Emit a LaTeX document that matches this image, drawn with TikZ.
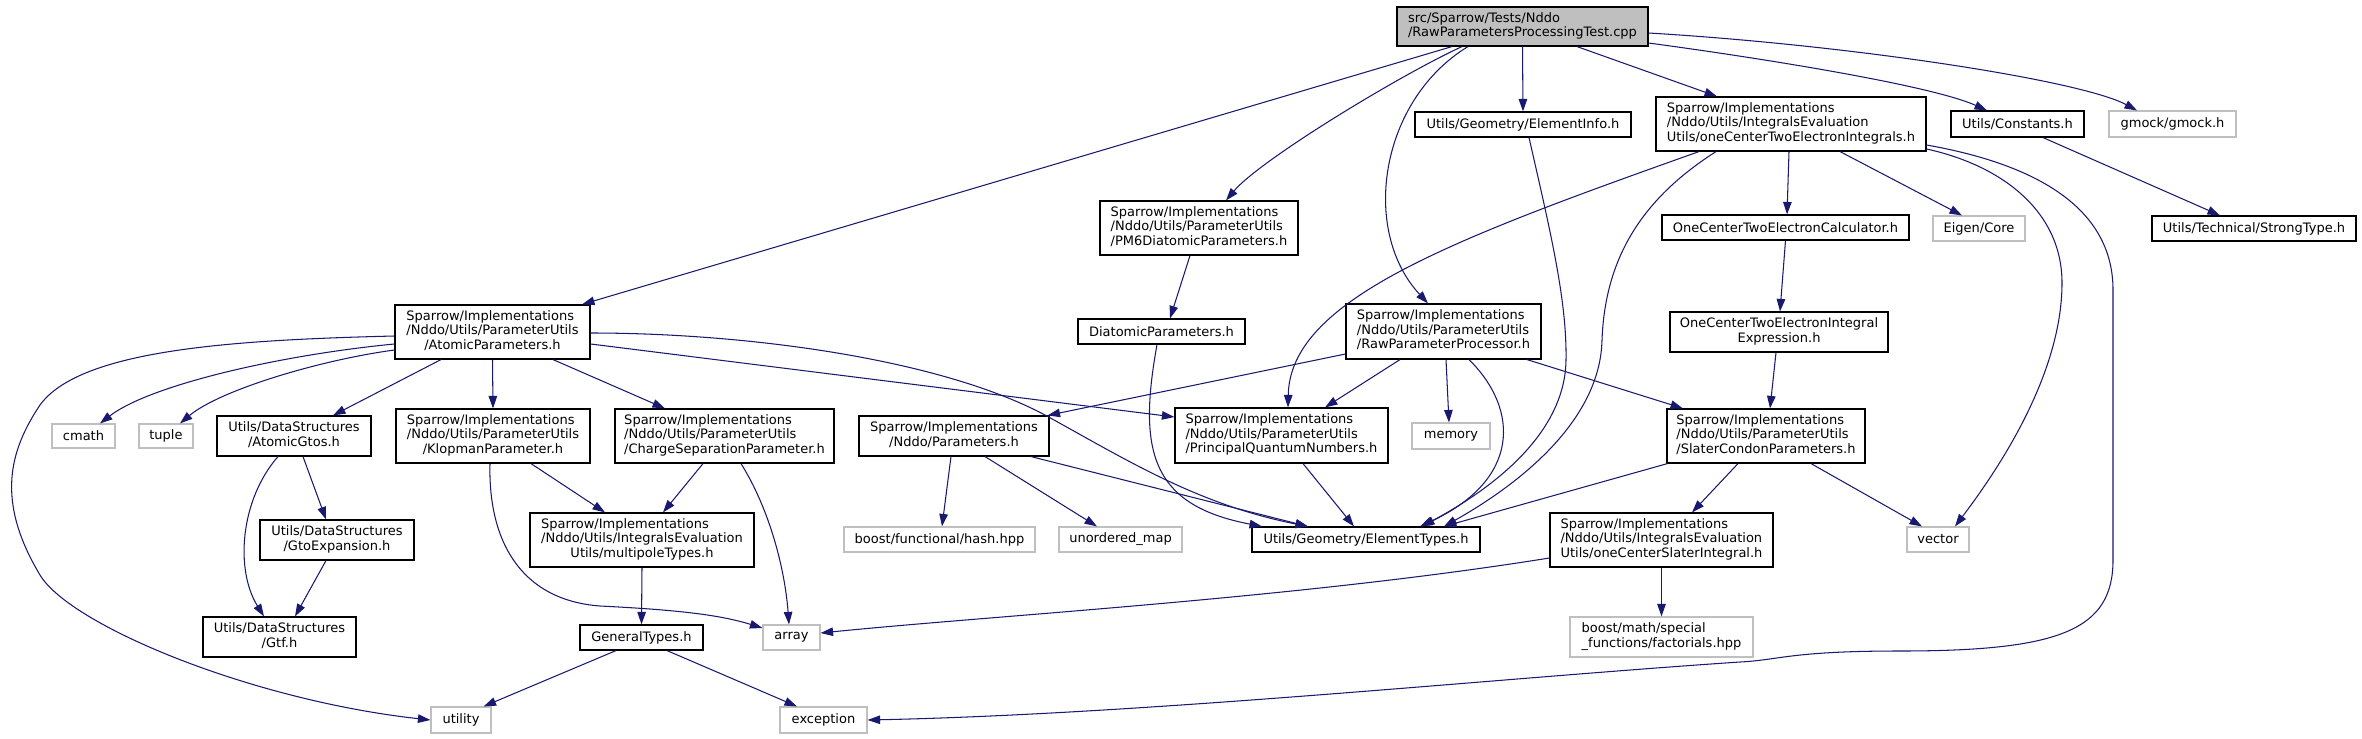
\documentclass[tikz,border=0pt]{standalone}
\usepackage{fontspec}
\setmainfont{DejaVu Sans}
\usetikzlibrary{arrows.meta}
\definecolor{edgecol}{HTML}{191970}
\definecolor{grey75}{HTML}{BFBFBF}
\newcommand\ml[2]{\begin{tabular}{@{}l@{}}#1\\\multicolumn{1}{@{}c@{}}{#2}\end{tabular}}
\newcommand\Nd[7]{\node[#6,minimum width={(#4-#2)*1pt},minimum height={(#5-#3)*1pt}] (#1) at ({(#2+#4)/2},{(#3+#5)/2}) {#7};}
\begin{document}
\begin{tikzpicture}[x=1pt,y=-1pt,
  box/.style={draw=black,line width=1.15pt,inner sep=0pt,font=\fontsize{13pt}{14.5pt}\selectfont},
  ext/.style={box,draw=grey75},
  edge/.style={draw=edgecol,line width=1.05pt,-{Triangle[length=12.5pt,width=8.5pt]}}]
\useasboundingbox[fill=white] (0,0) rectangle (2362,739);
% nodes
\Nd{root}{1397}{7}{1648}{46}{box,fill=grey75}{\ml{src/Sparrow/Tests/Nddo}{/RawParametersProcessingTest.cpp}}
\Nd{elinfo}{1415}{112}{1631}{137}{box}{Utils/Geometry/ElementInfo.h}
\Nd{octei}{1656}{97}{1926}{151}{box}{\ml{Sparrow/Implementations\\/Nddo/Utils/IntegralsEvaluation}{Utils/oneCenterTwoElectronIntegrals.h}}
\Nd{constants}{1951}{111}{2084}{137}{box}{Utils/Constants.h}
\Nd{gmock}{2109}{111}{2236}{137}{ext}{gmock/gmock.h}
\Nd{pm6}{1100}{201}{1298}{255}{box}{\ml{Sparrow/Implementations\\/Nddo/Utils/ParameterUtils}{/PM6DiatomicParameters.h}}
\Nd{calc}{1662}{215}{1909}{240}{box}{OneCenterTwoElectronCalculator.h}
\Nd{eigen}{1933}{216}{2025}{241}{ext}{Eigen/Core}
\Nd{strong}{2152}{216}{2356}{241}{box}{Utils/Technical/StrongType.h}
\Nd{atomic}{395}{305}{590}{359}{box}{\ml{Sparrow/Implementations\\/Nddo/Utils/ParameterUtils}{/AtomicParameters.h}}
\Nd{diatomic}{1078}{319}{1245}{344}{box}{DiatomicParameters.h}
\Nd{rpp}{1346}{304}{1541}{359}{box}{\ml{Sparrow/Implementations\\/Nddo/Utils/ParameterUtils}{/RawParameterProcessor.h}}
\Nd{octeiexpr}{1670}{312}{1888}{352}{box}{\ml{OneCenterTwoElectronIntegral}{Expression.h}}
\Nd{cmath}{52}{424}{115}{448}{ext}{cmath}
\Nd{tuple}{139}{424}{193}{448}{ext}{tuple}
\Nd{gtos}{217}{416}{371}{456}{box}{\ml{Utils/DataStructures}{/AtomicGtos.h}}
\Nd{klopman}{396}{409}{590}{463}{box}{\ml{Sparrow/Implementations\\/Nddo/Utils/ParameterUtils}{/KlopmanParameter.h}}
\Nd{chargesep}{615}{409}{834}{463}{box}{\ml{Sparrow/Implementations\\/Nddo/Utils/ParameterUtils}{/ChargeSeparationParameter.h}}
\Nd{parameters}{859}{416}{1049}{456}{box}{\ml{Sparrow/Implementations}{/Nddo/Parameters.h}}
\Nd{pqn}{1175}{408}{1388}{463}{box}{\ml{Sparrow/Implementations\\/Nddo/Utils/ParameterUtils}{/PrincipalQuantumNumbers.h}}
\Nd{memory}{1412}{423}{1490}{449}{ext}{memory}
\Nd{slater}{1667}{409}{1865}{463}{box}{\ml{Sparrow/Implementations\\/Nddo/Utils/ParameterUtils}{/SlaterCondonParameters.h}}
\Nd{gtoexp}{260}{520}{414}{560}{box}{\ml{Utils/DataStructures}{/GtoExpansion.h}}
\Nd{multipole}{530}{513}{754}{567}{box}{\ml{Sparrow/Implementations\\/Nddo/Utils/IntegralsEvaluation}{Utils/multipoleTypes.h}}
\Nd{boostfun}{844}{527}{1035}{552}{ext}{boost/functional/hash.hpp}
\Nd{umap}{1059}{527}{1182}{552}{ext}{unordered\_map}
\Nd{eltypes}{1252}{527}{1480}{552}{box}{Utils/Geometry/ElementTypes.h}
\Nd{ocsi}{1550}{513}{1773}{567}{box}{\ml{Sparrow/Implementations\\/Nddo/Utils/IntegralsEvaluation}{Utils/oneCenterSlaterIntegral.h}}
\Nd{vector}{1907}{527}{1969}{552}{ext}{vector}
\Nd{gtf}{203}{617}{356}{657}{box}{\ml{Utils/DataStructures}{/Gtf.h}}
\Nd{general}{580}{625}{703}{650}{box}{GeneralTypes.h}
\Nd{array}{763}{625}{820}{650}{ext}{array}
\Nd{boostmath}{1570}{617}{1753}{657}{ext}{\ml{boost/math/special}{\_functions/factorials.hpp}}
\Nd{utility}{431}{707}{491}{733}{ext}{utility}
\Nd{exception}{780}{707}{867}{733}{ext}{exception}
% edges from root
\draw[edge] ([xshift=-70.5pt]root.south) -- ([xshift=89.5pt]atomic.north);
\draw[edge] ([xshift=-60.5pt]root.south) .. controls (1400,75) and (1260,160) .. ([xshift=27pt]pm6.north);
\draw[edge] ([xshift=-54.5pt]root.south) .. controls (1380,100) and (1360,230) .. ([xshift=-15.5pt]rpp.north);
\draw[edge] (root.south) -- (elinfo.north);
\draw[edge] ([xshift=54.5pt]root.south) -- ([xshift=-74pt]octei.north);
\draw[edge] ([yshift=-16.5pt]root.east) .. controls (1760,58) and (1930,85) .. ([xshift=-30.5pt]constants.north);
\draw[edge] ([yshift=-6.5pt]root.east) .. controls (1850,45) and (2080,80) .. ([xshift=-35.5pt]gmock.north);
% ElementInfo / oneCenterTwoElectronIntegrals
\draw[edge] ([xshift=6pt]elinfo.south) .. controls (1550,230) and (1567,300) .. (1566,360) .. controls (1565,440) and (1480,495) .. ([xshift=56pt]eltypes.north);
\draw[edge] ([xshift=-75pt]octei.south) .. controls (1640,200) and (1605,260) .. (1602,340) .. controls (1600,430) and (1500,495) .. ([xshift=78pt]eltypes.north);
\draw[edge] ([xshift=-92pt]octei.south) .. controls (1450,240) and (1290,300) .. ([xshift=6.5pt]pqn.north);
\draw[edge] ([xshift=-2pt]octei.south) -- ([xshift=1.5pt]calc.north);
\draw[edge] ([xshift=49pt]octei.south) -- ([xshift=-17pt]eigen.north);
\draw[edge] ([yshift=-25pt]octei.east) .. controls (2000,165) and (2062,210) .. (2062,283) .. controls (2062,380) and (1990,480) .. ([xshift=17pt]vector.north);
\draw[edge] ([yshift=-21pt]octei.east) .. controls (2040,165) and (2113,210) .. (2113,290) -- (2113,560) .. controls (2113,630) and (2060,651) .. (1900,651) .. controls (1790,651) and (1780,660) .. (1740,662) .. controls (1500,678) and (1150,714) .. (exception.east);
\draw[edge] (calc.south) -- ([xshift=1pt]octeiexpr.north);
\draw[edge] ([xshift=-3pt]octeiexpr.south) -- ([xshift=4pt]slater.north);
\draw[edge] ([xshift=25.5pt]constants.south) -- ([xshift=-34pt]strong.north);
\draw[edge] ([xshift=-9pt]pm6.south) -- ([xshift=8.5pt]diatomic.north);
\draw[edge] ([xshift=-4.5pt]diatomic.south) .. controls (1138,450) and (1150,505) .. ([xshift=-104pt]eltypes.north);
% RawParameterProcessor
\draw[edge] ([yshift=-22.5pt]rpp.west) -- ([xshift=-2pt]parameters.north east);
\draw[edge] ([xshift=-43.5pt]rpp.south) -- ([xshift=43.5pt]pqn.north);
\draw[edge] ([xshift=2.5pt]rpp.south) -- ([xshift=-2pt]memory.north);
\draw[edge] ([xshift=25.5pt]rpp.south) .. controls (1520,410) and (1520,480) .. ([xshift=54pt]eltypes.north);
\draw[edge] ([xshift=83.5pt]rpp.south) -- ([xshift=-83pt]slater.north);
% SlaterCondon
\draw[edge] ([xshift=1pt]slater.south west) -- ([xshift=78pt]eltypes.north);
\draw[edge] ([xshift=-28pt]slater.south) -- ([xshift=30.5pt]ocsi.north);
\draw[edge] ([xshift=45pt]slater.south) -- ([xshift=-16pt]vector.north);
\draw[edge] ([yshift=-18pt]ocsi.west) .. controls (1300,598) and (1000,615) .. ([yshift=4.5pt]array.east);
\draw[edge] (ocsi.south) -- (boostmath.north);
% Parameters
\draw[edge] ([xshift=-3pt]parameters.south) -- ([xshift=2.5pt]boostfun.north);
\draw[edge] ([xshift=31pt]parameters.south) -- ([xshift=-23.5pt]umap.north);
\draw[edge] ([xshift=77pt]parameters.south) -- ([xshift=-58pt]eltypes.north);
\draw[edge] ([xshift=21.5pt]pqn.south) -- ([xshift=-12pt]eltypes.north);
% AtomicParameters
\draw[edge] ([yshift=-12pt]atomic.east) -- ([yshift=18.5pt]pqn.west);
\draw[edge] ([yshift=-1pt]atomic.east) .. controls (750,333) and (950,360) .. (1054,420) .. controls (1130,462) and (1200,505) .. ([xshift=-58pt]eltypes.north);
\draw[edge] ([yshift=-12pt]atomic.west) .. controls (280,355) and (150,385) .. ([xshift=16.5pt]cmath.north);
\draw[edge] ([yshift=-18pt]atomic.west) .. controls (320,360) and (220,390) .. ([xshift=14pt]tuple.north);
\draw[edge] ([yshift=-4pt]atomic.west) .. controls (230,340) and (80,350) .. (40,405) .. controls (10,450) and (-5,500) .. (40,575) .. controls (70,625) and (250,700) .. (utility.west);
\draw[edge] ([xshift=-51.5pt]atomic.south) -- ([xshift=39pt]gtos.north);
\draw[edge] (atomic.south) -- (klopman.north);
\draw[edge] ([xshift=60.5pt]atomic.south) -- ([xshift=-59.5pt]chargesep.north);
% lower left
\draw[edge] ([xshift=9pt]gtos.south) -- ([xshift=-11pt]gtoexp.north);
\draw[edge] ([xshift=-16pt]gtos.south) .. controls (240,500) and (235,570) .. ([xshift=-15.5pt]gtf.north);
\draw[edge] ([xshift=-11pt]gtoexp.south) -- ([xshift=15.5pt]gtf.north);
\draw[edge] ([xshift=38pt]klopman.south) -- ([xshift=-37pt]multipole.north);
\draw[edge] ([xshift=-3pt]klopman.south) .. controls (488,540) and (520,600) .. (600,606) .. controls (680,610) and (720,615) .. ([yshift=9.5pt]array.west);
\draw[edge] ([xshift=-21.5pt]chargesep.south) -- ([xshift=21pt]multipole.north);
\draw[edge] ([xshift=16.5pt]chargesep.south) .. controls (770,510) and (785,570) .. ([xshift=-2.5pt]array.north);
\draw[edge] (multipole.south) -- (general.north);
\draw[edge] ([xshift=-25.5pt]general.south) -- ([xshift=-8pt]utility.north east);
\draw[edge] ([xshift=25.5pt]general.south) -- ([xshift=-26.5pt]exception.north);
\end{tikzpicture}
\end{document}
